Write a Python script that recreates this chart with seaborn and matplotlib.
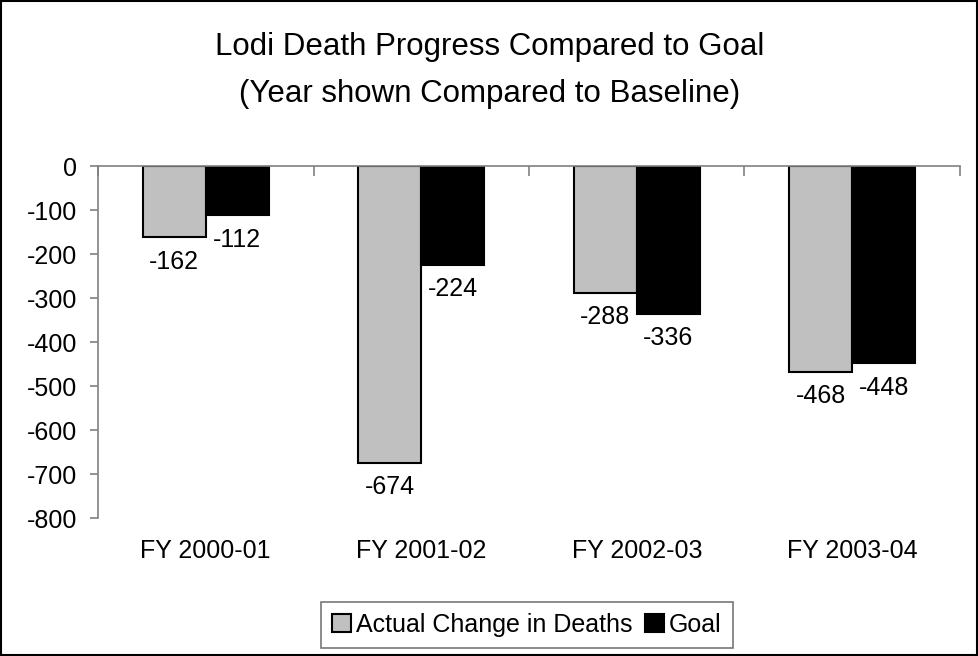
import pandas as pd
import matplotlib
matplotlib.use('Agg')
import matplotlib.pyplot as plt
import seaborn as sns

# Chart data
years = ['FY 2000-01', 'FY 2001-02', 'FY 2002-03', 'FY 2003-04']
actual = [-162, -674, -288, -468]
goal = [-112, -224, -336, -448]
series_names = ['Actual Change in Deaths', 'Goal']

df = pd.DataFrame({
    'year': years * 2,
    'value': actual + goal,
    'series': [series_names[0]] * len(years) + [series_names[1]] * len(years),
})

sns.set_theme(style='white')
plt.rcParams['font.family'] = ['Liberation Sans', 'DejaVu Sans']
plt.rcParams['axes.unicode_minus'] = False
plt.rcParams['text.color'] = 'black'

fig = plt.figure(figsize=(9.79, 6.56), dpi=100)
ax = fig.add_axes([98 / 979, 1 - 518 / 656, (960 - 98) / 979, (518 - 166) / 656])

sns.barplot(data=df, x='year', y='value', hue='series',
            palette=['#c0c0c0', '#000000'], edgecolor='black', linewidth=1.5,
            width=0.585, saturation=1, ax=ax)

ax.set_ylim(-800, 0)
ax.set_xlim(-0.5, len(years) - 0.5)
ax.set_yticks(range(-800, 1, 100))
ax.set_xlabel('')
ax.set_ylabel('')

# spines: left axis and the zero line only
for side in ['right', 'bottom']:
    ax.spines[side].set_visible(False)
for side in ['left', 'top']:
    ax.spines[side].set_visible(True)
    ax.spines[side].set_color('#808080')
    ax.spines[side].set_linewidth(1.2)

ax.tick_params(axis='y', which='major', left=True, length=6, width=1.2,
               color='#808080', labelsize=18, pad=9, labelcolor='black')
ax.tick_params(axis='x', which='major', bottom=False, length=0,
               labelsize=18, pad=15, labelcolor='black')
ax.set_xticks([i - 0.5 for i in range(len(years) + 1)], minor=True)
ax.tick_params(axis='x', which='minor', top=True, bottom=False, direction='in',
               length=7, width=1.2, color='#808080')

# data labels below each bar end
for cont in ax.containers:
    for bar in cont:
        h = bar.get_height()
        ax.annotate(f'{h:.0f}', (bar.get_x() + bar.get_width() / 2, h),
                    xytext=(0, -9), textcoords='offset points',
                    ha='center', va='top', fontsize=18, color='black')

fig.suptitle('Lodi Death Progress Compared to Goal\n(Year shown Compared to Baseline)',
             x=0.5, y=0.951, fontsize=22.5, linespacing=1.72, color='black')

leg = ax.legend(loc='center', bbox_to_anchor=(527 / 979, 1 - 625 / 656),
                bbox_transform=fig.transFigure, ncol=2, fontsize=18,
                frameon=True, fancybox=False, handlelength=0.75, handleheight=0.75,
                handletextpad=0.2, columnspacing=0.5, borderpad=0.45)
leg.get_frame().set_edgecolor('#555555')
leg.get_frame().set_linewidth(1.2)

# border around the whole chart
fig.patches.append(plt.Rectangle((0.001, 0.002), 0.997, 0.996, transform=fig.transFigure,
                                 fill=False, edgecolor='black', linewidth=1.5))

fig.savefig('out.png', dpi=100)
